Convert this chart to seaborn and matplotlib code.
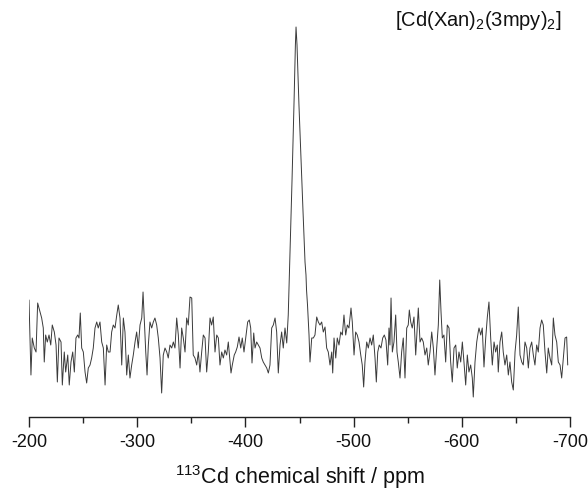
import numpy as np
import pandas as pd
import matplotlib
matplotlib.use("Agg")
import matplotlib.pyplot as plt
import seaborn as sns

# chemical shift (ppm) and intensity (arb. units)
shift_a = [-200.0, -201.8, -203.0, -204.9, -206.5, -208.0, -210.2, -211.7, -213.2, -214.1,
           -215.4, -216.9, -218.5, -220.1, -221.5, -223.4, -225.0, -226.2, -227.7, -229.6,
           -230.8, -232.6, -233.9, -235.8, -237.2, -238.8, -240.4, -241.9, -243.4, -245.0,
           -246.2, -247.4, -248.7, -250.2, -251.8, -253.3, -254.8, -256.4, -257.9, -259.4,
           -261.0, -262.6, -264.0, -265.6, -267.2, -268.7, -270.3, -271.8, -273.3, -274.9,
           -276.4, -277.9, -279.5, -281.1, -282.5, -284.1]
int_a = [100, 25, 62, 52, 48, 97, 88, 82, 72, 38, 65, 58, 65, 55, 75, 68, 55, 18, 62, 58,
         15, 48, 28, 45, 15, 38, 48, 28, 62, 65, 62, 87, 52, 48, 28, 17, 32, 35, 42, 52,
         72, 78, 72, 78, 58, 52, 15, 55, 48, 48, 68, 75, 72, 85, 95, 82]

shift_b = [-285.7, -287.2, -288.7, -290.3, -291.8, -293.3, -294.9, -296.4, -298.0, -299.5,
           -301.0, -302.6, -304.2, -305.4, -306.6, -307.9, -309.1, -310.3, -311.8, -313.4,
           -314.9, -316.4, -318.0, -319.5, -321.1, -322.6, -324.1, -325.7, -327.3, -328.7,
           -330.3, -331.9, -333.4, -334.9, -336.5, -338.0, -339.6, -341.1, -342.6, -344.2,
           -345.7, -347.2, -348.8, -350.4, -351.8, -353.4, -355.0, -356.5, -358.0, -359.6,
           -361.1, -362.7, -364.2, -365.7]
int_b = [35, 82, 68, 25, 45, 22, 35, 45, 58, 68, 52, 75, 82, 108, 78, 48, 25, 55, 78, 72,
         78, 82, 75, 62, 42, 7, 45, 52, 48, 42, 55, 52, 58, 52, 82, 65, 32, 72, 62, 48,
         82, 75, 103, 102, 45, 42, 35, 48, 28, 48, 65, 62, 28, 48]

shift_c = [-367.3, -368.8, -370.3, -371.9, -373.5, -375.0, -376.5, -378.1, -379.6, -381.1,
           -382.7, -384.2, -385.8, -386.7, -387.9, -389.7, -391.0, -392.5, -394.1, -395.7,
           -397.1, -398.7, -400.3, -402.1, -403.6, -404.9, -406.1, -407.7, -408.9, -410.4,
           -411.9, -413.5, -415.1, -416.5, -418.1, -419.7, -421.2, -422.7, -424.3, -425.8,
           -427.4, -428.9, -430.4, -432.0, -433.5, -435.0, -436.6, -438.2, -439.6]
int_c = [82, 75, 83, 48, 65, 62, 35, 48, 42, 50, 45, 58, 38, 27, 35, 45, 48, 53, 63, 52,
         62, 48, 62, 78, 80, 72, 37, 67, 52, 58, 55, 52, 42, 38, 35, 32, 27, 35, 72, 75,
         82, 68, 27, 55, 68, 52, 72, 57, 85]

shift_peak = [-441.2, -443.1, -445.0, -446.2, -446.8, -447.7, -449.5, -451.4, -453.2,
              -455.1, -456.0, -456.5, -457.4]
int_peak = [145, 220, 300, 355, 373, 355, 295, 240, 190, 138, 125, 110, 95]

shift_d = [-458.8, -459.7, -461.3, -462.8, -464.3, -465.9, -467.4, -468.9, -470.5, -472.0,
           -473.6, -475.1, -476.6, -478.2, -479.8, -480.7, -481.9, -483.5, -484.9, -486.5,
           -488.1, -489.6, -491.1, -492.7, -494.2, -495.7, -497.6, -498.8, -500.4, -501.9,
           -503.4, -505.0, -506.6, -508.0, -509.3, -510.5, -512.1, -513.6, -515.2, -516.7,
           -518.2, -519.8, -521.0, -522.3, -523.7, -525.3, -526.9, -528.4, -529.9, -531.5,
           -532.7]
int_d = [65, 38, 62, 62, 65, 83, 78, 75, 78, 68, 73, 52, 48, 35, 48, 27, 62, 42, 62, 55,
         68, 65, 85, 65, 75, 72, 92, 78, 45, 68, 65, 58, 45, 35, 13, 38, 58, 52, 62, 55,
         65, 42, 18, 48, 55, 52, 62, 65, 60, 35, 72]

shift_e = [-533.6, -534.6, -535.8, -537.3, -538.9, -540.1, -541.3, -542.9, -544.4, -545.9,
           -547.5, -549.1, -550.5, -551.5, -552.8, -554.2, -555.8, -557.4, -558.9, -559.8,
           -561.4, -562.9, -564.4, -566.0, -567.6, -569.0, -570.6, -572.2, -573.7, -575.2,
           -576.8, -578.3, -579.6, -580.8, -582.0, -583.5, -585.1, -586.6, -588.2, -589.7,
           -591.2, -592.8, -594.4, -595.8, -597.4, -599.0, -600.5, -602.0, -603.6, -605.1,
           -606.6, -608.2, -609.7, -610.6, -612.2, -613.8, -615.2]
int_e = [55, 102, 48, 58, 85, 48, 38, 22, 48, 62, 22, 72, 75, 90, 78, 72, 83, 45, 75, 92,
         58, 62, 58, 45, 52, 35, 48, 68, 52, 25, 52, 75, 120, 88, 62, 65, 38, 75, 72, 38,
         18, 52, 55, 32, 48, 38, 58, 38, 15, 45, 28, 35, 22, 3, 38, 58, 68]

shift_f = [-615.9, -617.5, -618.9, -620.5, -622.1, -623.6, -625.1, -626.7, -628.2, -629.8,
           -631.3, -632.8, -633.7, -635.3, -636.9, -638.3, -639.9, -641.5, -643.0, -644.5,
           -646.1, -647.6, -649.2, -650.7, -652.2, -653.8, -655.4, -656.8, -658.4, -660.0,
           -661.5, -663.0, -664.6, -666.1, -667.6, -669.2, -670.7, -672.3, -673.8, -675.3,
           -676.9, -678.5, -679.9, -681.5, -683.1, -684.6, -686.1, -687.7, -689.2, -690.8,
           -692.3, -693.8, -695.4, -696.9, -697.9]
int_f = [72, 65, 72, 33, 62, 83, 98, 62, 35, 58, 48, 55, 28, 58, 68, 48, 35, 45, 25, 38,
         18, 10, 48, 65, 93, 45, 38, 35, 58, 52, 32, 52, 58, 45, 35, 55, 48, 72, 80, 75,
         48, 27, 52, 42, 35, 82, 65, 58, 38, 35, 22, 42, 62, 63, 35]

x_ticks = [-200, -300, -400, -500, -600, -700]
x_minor = [-250, -350, -450, -550, -650]
title_text = "[Cd(Xan)$_2$(3mpy)$_2$]"
x_label = "$^{113}$Cd chemical shift / ppm"

shift = shift_a + shift_b + shift_c + shift_peak + shift_d + shift_e + shift_f
intensity = int_a + int_b + int_c + int_peak + int_d + int_e + int_f
df = pd.DataFrame({"shift": shift, "intensity": intensity})

sns.set_theme(style="ticks")
plt.rcParams["font.family"] = ["Liberation Sans", "DejaVu Sans"]
plt.rcParams["mathtext.fontset"] = "custom"
plt.rcParams["mathtext.rm"] = "Liberation Sans"
plt.rcParams["mathtext.it"] = "Liberation Sans"

fig = plt.figure(figsize=(5.88, 4.98), dpi=100)
ax = fig.add_axes([29 / 588, 1 - 417 / 498, (570 - 29) / 588, (417 - 10) / 498])

sns.lineplot(data=df, x="shift", y="intensity", ax=ax, sort=False, estimator=None,
             color="#3a3a3a", linewidth=0.7)

ax.set_xlim(-200, -700)
ax.set_ylim(-17, 390)
ax.set_xticks(x_ticks)
ax.set_xticks(x_minor, minor=True)
ax.set_xticklabels([str(t) for t in x_ticks], fontsize=13, color="#111111")
ax.tick_params(axis="x", which="major", length=7, width=1.0, direction="out", pad=5,
               color="#222222")
ax.tick_params(axis="x", which="minor", length=4, width=1.0, direction="out",
               color="#222222")
ax.set_yticks([])
for s in ["top", "right", "left"]:
    ax.spines[s].set_visible(False)
ax.spines["bottom"].set_linewidth(1.0)
ax.spines["bottom"].set_color("#222222")
ax.set_xlabel(x_label, fontsize=15.5, color="#111111", labelpad=9)
ax.set_ylabel("")

fig.text(562 / 588, 1 - 20 / 498, title_text, ha="right", va="center",
         fontsize=14.5, color="#111111")

fig.savefig("out.png", dpi=100)
